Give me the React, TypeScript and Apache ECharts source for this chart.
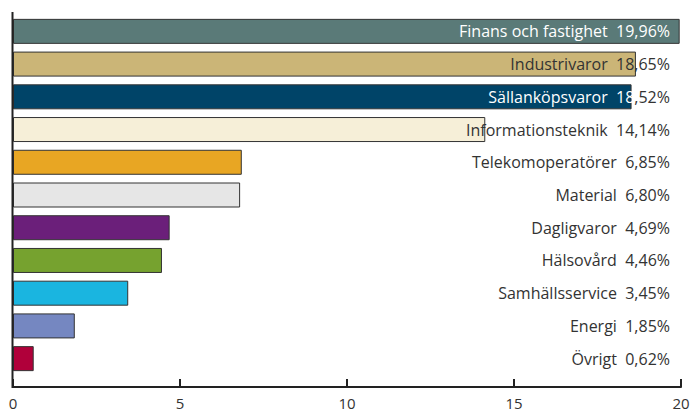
import React, { useEffect, useRef } from "react";
import * as echarts from "echarts";

const categories = [
  "Finans och fastighet",
  "Industrivaror",
  "Sällanköpsvaror",
  "Informationsteknik",
  "Telekomoperatörer",
  "Material",
  "Dagligvaror",
  "Hälsovård",
  "Samhällsservice",
  "Energi",
  "Övrigt",
];
const values = [19.96, 18.65, 18.52, 14.14, 6.85, 6.8, 4.69, 4.46, 3.45, 1.85, 0.62];
const colors = [
  "#5a7a78",
  "#cbb577",
  "#004468",
  "#f6efd8",
  "#e8a623",
  "#e6e6e6",
  "#6b1f7a",
  "#76a22f",
  "#1ab5e0",
  "#7587c1",
  "#b0003a",
];
// number of label characters drawn in white (over a dark bar); -1 = whole label
const whiteChars = [-1, 0, 19, 0, 0, 0, 0, 0, 0, 0, 0];
const xTicks = { min: 0, max: 20, interval: 5 };

const fmt = (v: number) => v.toFixed(2).replace(".", ",") + "%";

export default function App() {
  const ref = useRef<HTMLDivElement>(null);
  useEffect(() => {
    if (!ref.current) return;
    const chart = echarts.init(ref.current, undefined, { renderer: "svg" });
    const font = "'Open Sans', 'Noto Sans', sans-serif";
    chart.setOption({
      animation: false,
      grid: { left: 13, right: 12, top: 15, bottom: 37, containLabel: false },
      xAxis: {
        type: "value",
        min: xTicks.min,
        max: xTicks.max,
        interval: xTicks.interval,
        offset: 12,
        splitLine: { show: false },
        axisLine: { show: true, lineStyle: { color: "#222", width: 2 } },
        axisTick: { show: true, inside: true, length: 8, lineStyle: { color: "#222", width: 2 } },
        axisLabel: { color: "#333", fontSize: 15, fontFamily: font, margin: 8 },
      },
      yAxis: {
        type: "category",
        inverse: true,
        data: categories,
        axisLine: { show: false },
        axisTick: { show: false },
        axisLabel: { show: false },
      },
      graphic: [
        {
          type: "line",
          shape: { x1: 12.5, y1: 12, x2: 12.5, y2: 388 },
          style: { stroke: "#222", lineWidth: 2 },
          z: 100,
        },
      ],
      series: [
        {
          type: "bar",
          data: values.map((v, i) => ({
            value: v,
            itemStyle: { color: colors[i], borderColor: "#333", borderWidth: 1 },
          })),
          barWidth: 25,
          barGap: "-100%",
          z: 2,
        },
        {
          type: "bar",
          data: values.map((v, i) => ({
            value: xTicks.max,
            label: {
              show: true,
              position: "insideRight",
              distance: 11,
              formatter: () => {
                const s = `${categories[i]}  ${fmt(v)}`;
                const n = whiteChars[i] < 0 ? s.length : whiteChars[i];
                const w = s.slice(0, n);
                const d = s.slice(n);
                return (w ? `{w|${w}}` : "") + (d ? `{d|${d}}` : "");
              },
              rich: {
                w: { color: "#ffffff", fontSize: 16, fontFamily: font },
                d: { color: "#333333", fontSize: 16, fontFamily: font },
              },
              fontSize: 16,
              fontFamily: font,
            },
          })),
          itemStyle: { color: "rgba(0,0,0,0)" },
          barWidth: 25,
          barGap: "-100%",
          silent: true,
          z: 3,
        },
      ],
    });
    return () => chart.dispose();
  }, []);
  return <div ref={ref} style={{ width: 693, height: 412, position: "absolute", left: 0, top: 0 }} />;
}
